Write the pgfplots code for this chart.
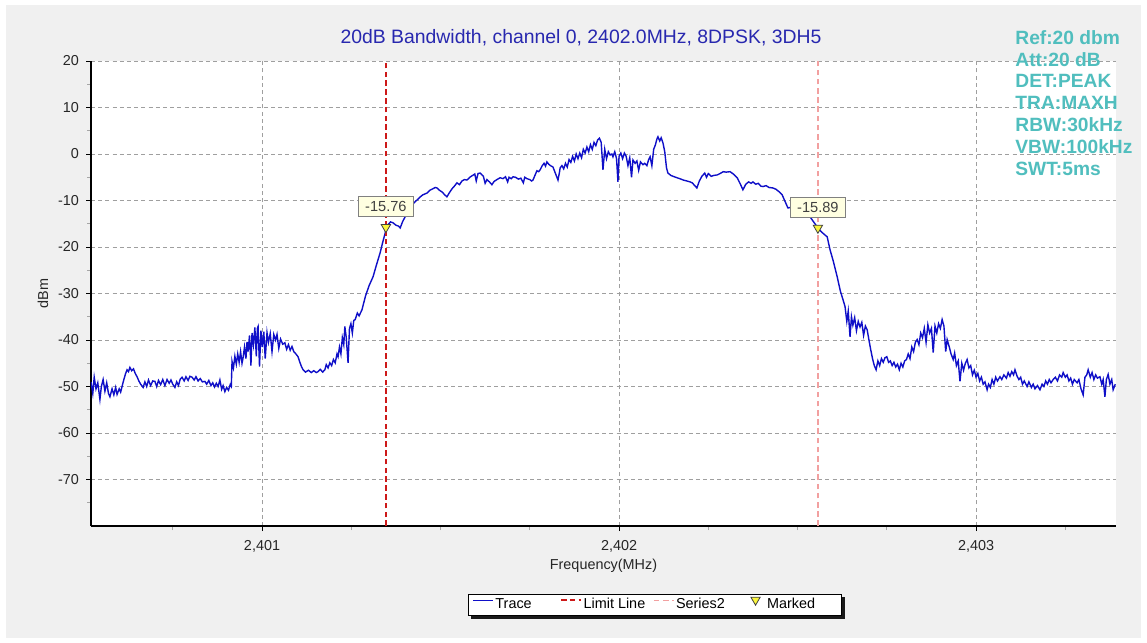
\documentclass[border=0pt]{standalone}
\usepackage{fontspec}
\setmainfont{Liberation Sans}
\usepackage{pgfplots}
\pgfplotsset{compat=1.18}
\usepackage{pgfplotstable}

\pgfdeclarelayer{bgzero}
\pgfdeclarelayer{shadowl}
\pgfsetlayers{bgzero,shadowl,main}

\definecolor{panel}{RGB}{240,240,240}
\definecolor{tracec}{RGB}{15,15,200}
\definecolor{limitc}{RGB}{205,25,25}
\definecolor{ser2c}{RGB}{242,160,160}
\definecolor{titlec}{RGB}{40,40,175}
\definecolor{infoc}{RGB}{80,190,190}
\definecolor{boxc}{RGB}{255,255,225}
\definecolor{markc}{RGB}{250,245,60}

\pgfplotsset{
  shortline/.style={legend image code/.code={\draw[##1] (0pt,2.4pt) -- (10pt,2.4pt);}},
  onemark/.style={legend image code/.code={\path[draw=none,fill=none] (0pt,2.4pt) rectangle (10pt,2.5pt); \draw[##1] plot coordinates {(5pt,2.6pt)};}},
}

\pgfplotstableread{
f v
2400.521 -49.0
2400.526 -51.5
2400.530 -48.0
2400.535 -50.5
2400.540 -49.2
2400.546 -52.8
2400.550 -50.0
2400.555 -48.5
2400.560 -51.0
2400.565 -49.2
2400.570 -51.5
2400.574 -52.2
2400.580 -50.5
2400.585 -51.8
2400.590 -50.2
2400.594 -51.7
2400.600 -50.5
2400.604 -51.2
2400.608 -50.0
2400.613 -48.5
2400.618 -47.2
2400.622 -46.4
2400.626 -46.8
2400.630 -45.9
2400.635 -46.6
2400.640 -46.2
2400.645 -47.2
2400.650 -47.9
2400.655 -48.8
2400.660 -49.5
2400.667 -50.2
2400.672 -49.0
2400.677 -50.0
2400.682 -48.6
2400.688 -49.8
2400.694 -48.8
2400.700 -48.9
2400.705 -50.0
2400.710 -48.7
2400.716 -49.6
2400.722 -48.5
2400.728 -49.8
2400.734 -48.5
2400.740 -49.3
2400.745 -48.6
2400.750 -49.5
2400.756 -50.2
2400.761 -49.0
2400.766 -49.8
2400.771 -48.4
2400.776 -48.0
2400.782 -48.8
2400.787 -47.9
2400.793 -48.7
2400.798 -47.8
2400.804 -48.0
2400.810 -48.6
2400.815 -47.9
2400.821 -48.8
2400.827 -48.3
2400.833 -49.0
2400.840 -48.9
2400.845 -49.5
2400.851 -48.7
2400.857 -49.8
2400.862 -49.2
2400.867 -50.1
2400.872 -49.3
2400.877 -50.0
2400.882 -48.6
2400.887 -50.6
2400.891 -49.8
2400.896 -51.1
2400.901 -50.2
2400.906 -50.8
2400.911 -49.6
2400.914 -50.0
2400.916 -44.6
2400.920 -46.0
2400.924 -43.5
2400.928 -45.2
2400.932 -43.0
2400.936 -44.8
2400.940 -42.5
2400.944 -45.0
2400.947 -43.8
2400.951 -41.5
2400.955 -44.0
2400.958 -40.4
2400.961 -42.5
2400.965 -39.0
2400.969 -45.5
2400.972 -38.5
2400.976 -41.0
2400.980 -37.3
2400.984 -43.5
2400.987 -37.5
2400.989 -37.1
2400.993 -45.7
2400.997 -38.0
2401.001 -41.5
2401.005 -38.2
2401.009 -44.0
2401.014 -38.4
2401.018 -40.5
2401.023 -38.6
2401.028 -42.5
2401.033 -38.8
2401.038 -40.0
2401.042 -38.8
2401.047 -41.8
2401.052 -39.8
2401.058 -40.9
2401.064 -40.6
2401.069 -42.0
2401.074 -41.0
2401.079 -42.2
2401.084 -41.4
2401.089 -42.5
2401.095 -43.0
2401.101 -43.6
2401.106 -44.8
2401.111 -45.8
2401.115 -46.4
2401.122 -46.9
2401.130 -46.5
2401.138 -47.0
2401.145 -46.6
2401.152 -47.0
2401.157 -46.8
2401.163 -46.3
2401.170 -46.9
2401.176 -46.4
2401.180 -45.3
2401.185 -46.0
2401.190 -44.9
2401.195 -45.5
2401.200 -44.2
2401.205 -44.9
2401.210 -43.0
2401.213 -43.6
2401.217 -41.5
2401.221 -43.0
2401.225 -39.5
2401.229 -41.0
2401.232 -37.1
2401.236 -39.5
2401.241 -44.9
2401.245 -37.5
2401.249 -36.5
2401.253 -38.5
2401.257 -35.8
2401.261 -35.6
2401.267 -34.2
2401.272 -34.8
2401.280 -33.5
2401.290 -30.5
2401.300 -28.3
2401.311 -26.4
2401.320 -24.0
2401.331 -21.2
2401.338 -19.0
2401.345 -17.0
2401.347 -15.76
2401.353 -15.2
2401.360 -14.6
2401.367 -14.8
2401.375 -15.3
2401.382 -15.5
2401.387 -15.9
2401.394 -14.5
2401.401 -13.5
2401.410 -12.0
2401.418 -11.0
2401.426 -10.5
2401.434 -9.9
2401.442 -9.3
2401.450 -8.8
2401.462 -8.4
2401.470 -7.8
2401.478 -7.5
2401.485 -7.2
2401.490 -7.3
2401.497 -7.8
2401.505 -8.2
2401.512 -8.8
2401.518 -9.2
2401.525 -8.3
2401.532 -7.5
2401.540 -6.8
2401.546 -6.2
2401.553 -6.6
2401.560 -5.8
2401.567 -5.5
2401.574 -5.6
2401.582 -5.0
2401.590 -4.6
2401.596 -4.3
2401.600 -5.8
2401.605 -4.2
2401.611 -4.1
2401.616 -4.5
2401.620 -4.8
2401.625 -6.3
2401.630 -5.5
2401.637 -6.0
2401.644 -6.6
2401.650 -5.9
2401.658 -5.5
2401.667 -5.1
2401.675 -5.3
2401.682 -4.9
2401.688 -6.0
2401.692 -5.0
2401.698 -5.3
2401.703 -4.9
2401.710 -5.0
2401.718 -5.4
2401.725 -5.2
2401.732 -6.2
2401.736 -5.0
2401.742 -5.3
2401.750 -5.5
2401.755 -5.8
2401.759 -5.6
2401.765 -4.5
2401.770 -3.6
2401.775 -3.8
2401.779 -3.4
2401.785 -2.5
2401.790 -2.0
2401.794 -2.6
2401.798 -1.7
2401.803 -2.2
2401.808 -2.5
2401.815 -2.8
2401.820 -3.8
2401.825 -4.8
2401.829 -5.6
2401.833 -4.0
2401.835 -3.0
2401.840 -2.5
2401.845 -3.2
2401.850 -2.0
2401.855 -2.8
2401.860 -1.2
2401.865 -1.8
2401.870 -0.5
2401.875 -1.5
2401.880 0.0
2401.885 -1.0
2401.890 0.2
2401.895 -0.8
2401.900 1.0
2401.905 0.2
2401.910 1.5
2401.915 0.5
2401.920 2.0
2401.925 1.0
2401.930 2.5
2401.935 1.8
2401.940 3.0
2401.945 3.4
2401.950 2.5
2401.955 -3.4
2401.960 1.0
2401.965 -1.0
2401.970 0.5
2401.975 -0.2
2401.980 0.0
2401.983 -0.6
2401.988 0.5
2401.993 -1.0
2401.997 -6.0
2402.000 -0.5
2402.005 0.2
2402.010 -1.0
2402.015 0.2
2402.020 -0.5
2402.025 -2.5
2402.030 -0.8
2402.035 -5.0
2402.039 -1.3
2402.045 -2.0
2402.050 -1.5
2402.055 -3.5
2402.060 -1.7
2402.067 -2.3
2402.072 -2.0
2402.078 -2.5
2402.083 -1.2
2402.087 -0.6
2402.092 -2.5
2402.097 1.0
2402.102 2.0
2402.106 3.2
2402.109 3.7
2402.114 2.8
2402.118 3.5
2402.123 2.4
2402.128 0.5
2402.133 -3.0
2402.137 -4.1
2402.145 -4.6
2402.155 -4.9
2402.162 -5.1
2402.170 -5.3
2402.180 -5.6
2402.190 -5.8
2402.199 -6.0
2402.205 -6.2
2402.212 -6.8
2402.218 -7.3
2402.225 -5.8
2402.232 -4.8
2402.240 -4.1
2402.245 -5.0
2402.250 -4.2
2402.258 -4.8
2402.266 -4.6
2402.275 -4.5
2402.283 -4.2
2402.292 -3.8
2402.300 -3.9
2402.311 -3.8
2402.320 -4.3
2402.331 -5.1
2402.340 -6.5
2402.347 -7.7
2402.355 -6.5
2402.363 -6.0
2402.370 -6.3
2402.375 -6.0
2402.383 -6.5
2402.390 -6.3
2402.397 -6.9
2402.403 -7.0
2402.412 -6.8
2402.420 -7.2
2402.431 -7.3
2402.440 -7.6
2402.448 -8.1
2402.457 -8.8
2402.465 -10.2
2402.473 -11.6
2402.480 -11.5
2402.490 -11.2
2402.499 -11.4
2402.508 -12.3
2402.518 -13.0
2402.528 -13.3
2402.535 -13.5
2402.545 -14.6
2402.557 -15.89
2402.565 -16.6
2402.575 -17.3
2402.583 -17.8
2402.591 -20.6
2402.600 -23.0
2402.611 -26.4
2402.620 -29.5
2402.628 -31.5
2402.633 -32.8
2402.638 -36.0
2402.642 -33.8
2402.647 -39.3
2402.651 -35.0
2402.655 -36.8
2402.660 -35.2
2402.665 -38.0
2402.670 -36.0
2402.675 -37.2
2402.680 -36.2
2402.685 -39.0
2402.690 -37.0
2402.695 -37.8
2402.700 -40.0
2402.705 -42.1
2402.710 -44.0
2402.715 -45.5
2402.720 -46.4
2402.725 -44.5
2402.730 -45.5
2402.735 -44.0
2402.740 -44.8
2402.745 -43.8
2402.750 -43.6
2402.755 -44.8
2402.760 -44.5
2402.765 -45.5
2402.770 -44.8
2402.775 -45.8
2402.780 -45.2
2402.785 -46.4
2402.790 -45.0
2402.795 -45.8
2402.800 -44.5
2402.805 -44.2
2402.810 -43.0
2402.815 -44.0
2402.820 -41.5
2402.825 -42.5
2402.830 -40.5
2402.835 -39.9
2402.840 -41.0
2402.845 -38.5
2402.850 -39.5
2402.855 -37.5
2402.860 -40.5
2402.865 -36.7
2402.870 -38.5
2402.875 -37.5
2402.880 -42.7
2402.885 -37.0
2402.890 -38.5
2402.895 -36.5
2402.900 -37.5
2402.905 -35.6
2402.910 -37.0
2402.915 -42.5
2402.919 -39.9
2402.925 -41.5
2402.930 -43.0
2402.936 -44.2
2402.940 -42.8
2402.945 -45.5
2402.950 -44.5
2402.955 -48.9
2402.960 -45.0
2402.965 -46.5
2402.970 -45.0
2402.975 -44.2
2402.980 -46.0
2402.985 -45.5
2402.990 -47.5
2402.995 -46.5
2403.000 -48.0
2403.005 -47.2
2403.010 -48.8
2403.015 -48.0
2403.020 -49.5
2403.025 -49.0
2403.031 -50.7
2403.035 -49.5
2403.040 -50.2
2403.045 -48.5
2403.050 -49.5
2403.055 -48.0
2403.060 -48.8
2403.067 -47.9
2403.072 -48.5
2403.078 -47.5
2403.085 -48.2
2403.090 -47.0
2403.095 -47.8
2403.100 -46.8
2403.105 -47.5
2403.109 -46.4
2403.115 -47.8
2403.120 -48.5
2403.125 -48.0
2403.130 -49.5
2403.135 -48.8
2403.143 -50.0
2403.148 -49.0
2403.155 -50.2
2403.160 -49.5
2403.165 -50.5
2403.172 -49.8
2403.179 -50.7
2403.185 -49.5
2403.190 -50.0
2403.195 -48.8
2403.200 -49.5
2403.205 -48.5
2403.210 -49.2
2403.216 -48.5
2403.222 -48.0
2403.228 -48.8
2403.234 -47.5
2403.240 -48.0
2403.244 -47.0
2403.250 -48.0
2403.255 -47.5
2403.260 -48.8
2403.265 -48.2
2403.270 -49.5
2403.275 -48.5
2403.283 -49.2
2403.288 -48.5
2403.294 -50.5
2403.300 -51.8
2403.305 -48.0
2403.310 -47.5
2403.314 -46.4
2403.320 -48.0
2403.325 -47.0
2403.330 -48.5
2403.335 -47.5
2403.340 -48.2
2403.347 -47.9
2403.352 -49.5
2403.356 -48.5
2403.361 -52.2
2403.365 -48.5
2403.370 -47.4
2403.375 -49.5
2403.380 -48.5
2403.384 -50.7
2403.390 -49.5
}\tracedata

\begin{document}
\begin{tikzpicture}
\begin{pgfonlayer}{bgzero}
\begin{scope}[x=0.5pt,y=-0.5pt]
\fill[white] (0,0) rectangle (1147,643);
\fill[panel] (6,5) rectangle (1141,638);
\end{scope}
\end{pgfonlayer}
\begin{axis}[
  at={(45.5pt,-263pt)}, anchor=south west,
  scale only axis, width=512.5pt, height=232.5pt,
  xmin=2400.521, xmax=2403.392, ymin=-80, ymax=20,
  axis background/.style={fill=white},
  axis x line*=bottom, axis y line*=left,
  axis line style={-, line width=1.1pt, black},
  xtick={2401,2402,2403},
  xticklabels={{2,401},{2,402},{2,403}},
  minor xtick={2400.75,2401.25,2401.5,2401.75,2402.25,2402.5,2402.75,2403.25},
  ytick={-70,-60,-50,-40,-30,-20,-10,0,10,20},
  minor ytick={-75,-65,-55,-45,-35,-25,-15,-5,5,15},
  tick align=outside,
  major tick length=2.5pt, minor tick length=2pt,
  major tick style={black, line width=0.5pt},
  minor tick style={gray!70, line width=0.4pt},
  grid=major,
  major grid style={gray!75, line width=0.45pt, dash pattern=on 2pt off 1.6pt},
  /pgf/number format/assume math mode=true,
  ticklabel style={font=\fontsize{7.2}{8}\selectfont, text=black!85},
  xticklabel style={yshift=-1pt},
  xlabel={Frequency(MHz)},
  ylabel={dBm},
  label style={font=\fontsize{7.2}{8}\selectfont, text=black!85},
  xlabel style={yshift=3.5pt},
  ylabel style={yshift=-2pt},
  legend columns=4,
  legend style={name=leg, at={(axis description cs:0.5498,-0.170)}, anchor=center,
    draw=black, fill=white, line width=0.5pt,
    font=\fontsize{7.2}{8}\selectfont, inner xsep=2.25pt, inner ysep=0pt,
    nodes={inner ysep=1.8pt, inner xsep=0.75pt},
    /tikz/every even column/.append style={column sep=0pt}},
  legend cell align=left,
]
\addplot[tracec, line width=0.7pt, shortline] table[x=f, y=v] {\tracedata};
\addlegendentry{\makebox[31.5pt][l]{Trace}}
\addplot[limitc, line width=1.1pt, dash pattern=on 2.8pt off 1.6pt, shortline] coordinates {(2401.347,-80) (2401.347,20)};
\addlegendentry{\makebox[34pt][l]{Limit Line}}
\addplot[ser2c, line width=0.7pt, dash pattern=on 2.8pt off 1.8pt, shortline] coordinates {(2402.557,-80) (2402.557,20)};
\addlegendentry{\makebox[34pt][l]{Series2}}
\addplot[only marks, mark=triangle*, mark size=2.7pt, mark options={rotate=180, fill=markc, draw=black!75, line width=0.4pt}, onemark] coordinates {(2401.347,-15.76) (2402.557,-15.89)};
\addlegendentry{\makebox[34pt][l]{Marked}}
\node[fill=boxc, draw=gray, line width=0.5pt, inner xsep=3.3pt, inner ysep=2.4pt, font=\fontsize{7.3}{8}\selectfont, text=black!75] at (axis cs:2401.347,-15.76) [yshift=10.3pt] {-15.76};
\node[fill=boxc, draw=gray, line width=0.5pt, inner xsep=3.3pt, inner ysep=2.4pt, font=\fontsize{7.3}{8}\selectfont, text=black!75] at (axis cs:2402.557,-15.89) [yshift=10.3pt] {-15.89};
\end{axis}
\begin{pgfonlayer}{shadowl}
\fill[black!90] ([xshift=1.5pt,yshift=-1.5pt]leg.south west) rectangle ([xshift=1.5pt,yshift=-1.5pt]leg.north east);
\end{pgfonlayer}
\begin{scope}[x=0.5pt,y=-0.5pt]
\node[text=titlec, font=\fontsize{9.7}{10}\selectfont] at (581,38) {20dB Bandwidth, channel 0, 2402.0MHz, 8DPSK, 3DH5};
\node[text=infoc, font=\fontsize{9.6}{10.9}\selectfont\bfseries, align=left, anchor=north west, inner sep=0pt] at (1015,30) {Ref:20 dbm\\Att:20 dB\\DET:PEAK\\TRA:MAXH\\RBW:30kHz\\VBW:100kHz\\SWT:5ms};
\end{scope}
\end{tikzpicture}
\end{document}
